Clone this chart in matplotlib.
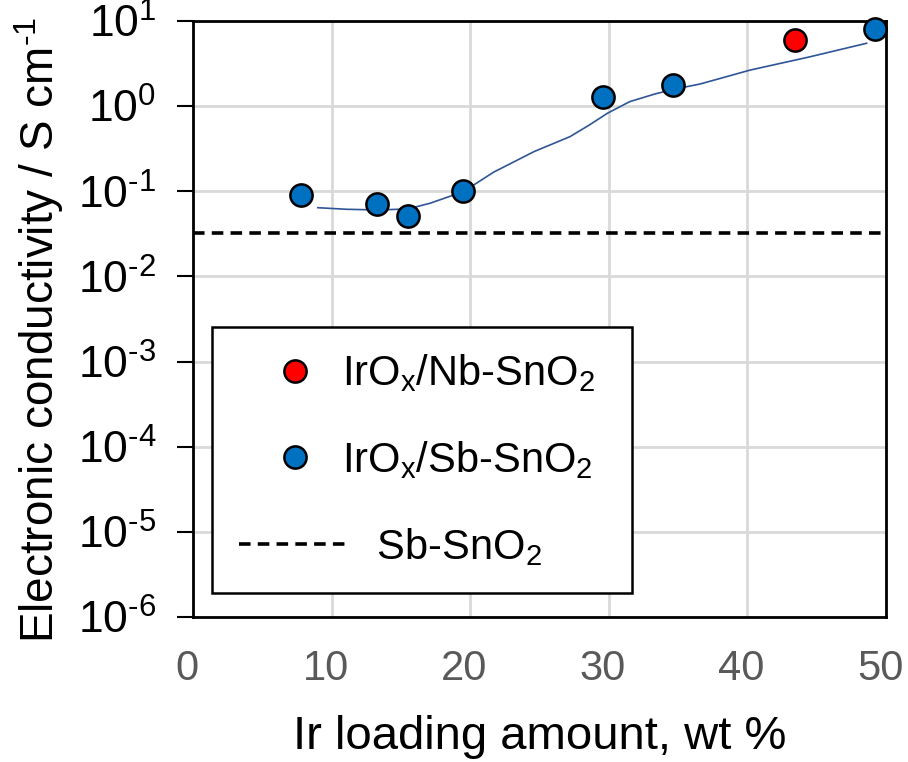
import math
import matplotlib
matplotlib.use("Agg")
import matplotlib.pyplot as plt
import matplotlib.transforms as mtransforms
from matplotlib.lines import Line2D
from matplotlib.legend_handler import HandlerBase
from matplotlib.ticker import FixedLocator, FuncFormatter, NullLocator

plt.rcParams['font.family'] = ['Liberation Sans', 'DejaVu Sans']
plt.rcParams['mathtext.fontset'] = 'custom'
plt.rcParams['mathtext.rm'] = 'Liberation Sans'
plt.rcParams['mathtext.it'] = 'Liberation Sans'

# measured conductivity, Sb-doped support
sb_loading = [7.8, 13.3, 15.5, 19.5, 29.6, 34.6, 49.2]
sb_sigma = [0.090, 0.070, 0.051, 0.10, 1.28, 1.77, 8.05]

# Nb-doped support
nb_loading = [43.4]
nb_sigma = [5.97]

# bare Sb-SnO2 reference level
bare_sigma = 0.032

# guide-to-the-eye trend through the Sb series
trend_x = [9.0, 11.1, 13.3, 15.5, 17.1, 19.5, 21.7, 24.6, 27.2, 28.6, 29.9, 31.5,
           33.4, 35.4, 36.6, 40.2, 44.5, 48.6]
trend_y = [0.0641, 0.0614, 0.0603, 0.0619, 0.0723, 0.0989, 0.168, 0.292, 0.438, 0.601,
           0.824, 1.127, 1.40, 1.663, 1.82, 2.65, 3.79, 5.47]

HY = '\u2010'  # typographic hyphen for exponents


class SpanHandler(HandlerBase):
    """legend handle drawn between x0 and x1 (in font-size units)"""

    def __init__(self, x0, x1, marker=False):
        super().__init__()
        self.x0, self.x1, self.marker = x0, x1, marker

    def create_artists(self, legend, orig_handle, xdescent, ydescent,
                       width, height, fontsize, trans):
        y = height / 2 - ydescent
        if self.marker:
            xs = [(self.x0 + self.x1) / 2 * fontsize - xdescent]
        else:
            xs = [self.x0 * fontsize - xdescent, self.x1 * fontsize - xdescent]
        art = Line2D(xs, [y] * len(xs))
        self.update_prop(art, orig_handle, legend)
        art.set_transform(trans)
        return [art]


fig = plt.figure(figsize=(9.08, 7.62), dpi=100)
ax = fig.add_axes([0.2126, 0.1903, 0.7632, 0.7822])

ax.set_yscale('log')
ax.set_xlim(0, 50)
ax.set_ylim(1e-6, 1e1)

ax.plot(trend_x, trend_y, color='#2f5597', lw=1.2, zorder=3)
dash = ax.axhline(bare_sigma, color='black', lw=2.6, ls=(0, (3.2, 2.0)), zorder=3)
nb = ax.plot(nb_loading, nb_sigma, 'o', ms=16, mfc='#ff0000', mec='black', mew=1.8,
             zorder=5, clip_on=False)[0]
sb = ax.plot(sb_loading, sb_sigma, 'o', ms=16, mfc='#0070c0', mec='black', mew=1.8,
             zorder=5, clip_on=False)[0]

# axis ticks and grid
ax.xaxis.set_major_locator(FixedLocator([0, 10, 20, 30, 40, 50]))
ax.yaxis.set_major_locator(FixedLocator([10.0 ** k for k in range(-6, 2)]))
ax.yaxis.set_minor_locator(NullLocator())


def exp_label(v, pos):
    k = round(math.log10(v))
    s = str(k).replace('-', HY)
    return '10$^{\\mathregular{%s}}$' % s


ax.yaxis.set_major_formatter(FuncFormatter(exp_label))
ax.grid(True, color='#d9d9d9', lw=2.0)
ax.set_axisbelow(True)

ax.tick_params(axis='x', length=0, pad=23, labelsize=30, labelcolor='#595959')
ax.tick_params(axis='y', length=11.5, width=1.5, pad=15, labelsize=32, direction='out')
for s in ax.spines.values():
    s.set_linewidth(2.0)
    s.set_color('black')

shift = mtransforms.ScaledTranslation(-6 / 100, 0, fig.dpi_scale_trans)
for t in ax.get_xticklabels():
    t.set_transform(t.get_transform() + shift)

ax.set_xlabel('Ir loading amount, wt %', fontsize=34, labelpad=19)
ax.set_ylabel('Electronic conductivity / S cm$^{\\mathregular{%s1}}$' % HY,
              fontsize=33, labelpad=8)
ax.yaxis.label.set_y(0.4815)

sub = 'IrO$\\mathregular{_x}$/%s-SnO$\\mathregular{_2}$'
leg = ax.legend(handles=[nb, sb, dash],
                labels=[sub % 'Nb', sub % 'Sb', '   Sb-SnO$\\mathregular{_2}$'],
                handler_map={nb: SpanHandler(0.04, 2.74, marker=True),
                             sb: SpanHandler(0.04, 2.74, marker=True),
                             dash: SpanHandler(0.04, 2.66)},
                loc='lower left', bbox_to_anchor=(0.0274, 0.0403, 0.606, 0.45),
                mode='expand', fontsize=30, frameon=True, fancybox=False,
                edgecolor='black', borderpad=0.6, labelspacing=1.08,
                handlelength=2.1, handletextpad=0.42, borderaxespad=0)
leg.get_frame().set_linewidth(1.8)
leg.get_frame().set_alpha(1)

fig.savefig('out.png', dpi=100)
